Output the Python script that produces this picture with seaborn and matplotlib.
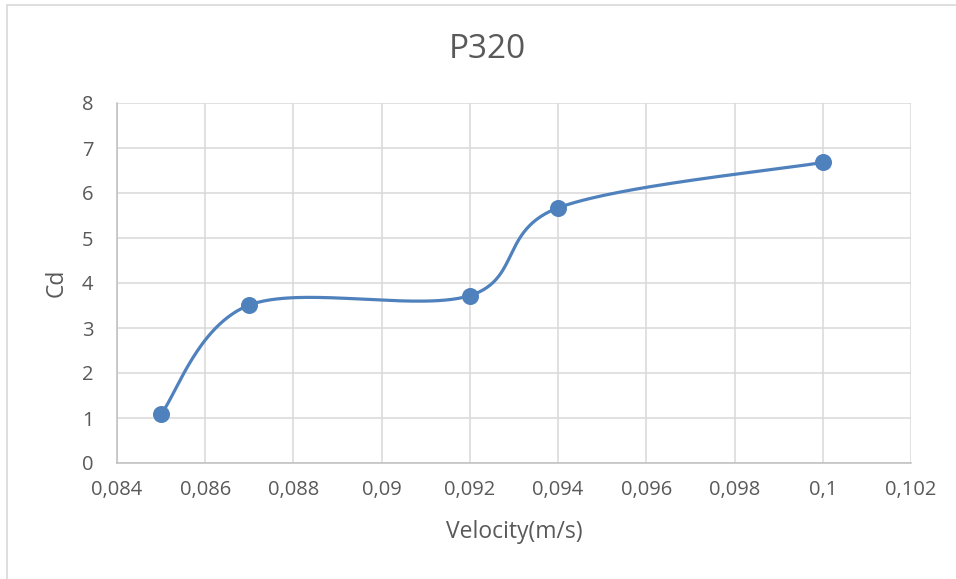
import numpy as np
import matplotlib
matplotlib.use("Agg")
import matplotlib.pyplot as plt
from matplotlib.lines import Line2D
import seaborn as sns

# Measured drag coefficient against flow velocity
velocity = [0.085, 0.087, 0.092, 0.094, 0.100]
cd = [1.09, 3.51, 3.72, 5.67, 6.68]

x_ticks = [0.084, 0.086, 0.088, 0.090, 0.092, 0.094, 0.096, 0.098, 0.100, 0.102]
x_tick_labels = ["0,084", "0,086", "0,088", "0,09", "0,092", "0,094",
                 "0,096", "0,098", "0,1", "0,102"]
y_ticks = [0, 1, 2, 3, 4, 5, 6, 7, 8]
y_tick_labels = ["0", "1", "2", "3", "4", "5", "6", "7", "8"]

title = "P320"
x_label = "Velocity(m/s)"
y_label = "Cd"


def smooth_curve(xs, ys, n=60):
    """Cubic Bezier segments with Catmull-Rom control points (smoothed line)."""
    px = np.asarray(xs, float)
    py = np.asarray(ys, float)
    m = len(px)
    out_x, out_y = [], []
    t = np.linspace(0, 1, n)
    for i in range(m - 1):
        i0 = max(i - 1, 0)
        i3 = min(i + 2, m - 1)
        p0 = np.array([px[i], py[i]])
        p3 = np.array([px[i + 1], py[i + 1]])
        c1 = p0 + (np.array([px[i + 1], py[i + 1]]) - np.array([px[i0], py[i0]])) / 6
        c2 = p3 - (np.array([px[i3], py[i3]]) - np.array([px[i], py[i]])) / 6
        b = ((1 - t) ** 3)[:, None] * p0 + (3 * (1 - t) ** 2 * t)[:, None] * c1 \
            + (3 * (1 - t) * t ** 2)[:, None] * c2 + (t ** 3)[:, None] * p3
        out_x.extend(b[:, 0])
        out_y.extend(b[:, 1])
    return np.array(out_x), np.array(out_y)


sns.set_theme(style="white")
plt.rcParams["font.family"] = ["Open Sans", "DejaVu Sans"]

text_color = "#595959"
grid_color = "#D9D9D9"
line_color = "#4F81BD"

fig = plt.figure(figsize=(9.56, 5.79), dpi=100)
ax = fig.add_axes([117 / 956, 1 - 463 / 579, (911 - 117) / 956, (463 - 103) / 579])

sx, sy = smooth_curve(velocity, cd)
sns.lineplot(x=sx, y=sy, ax=ax, color=line_color, linewidth=2.3, sort=False,
             estimator=None)
sns.scatterplot(x=velocity, y=cd, ax=ax, color=line_color, s=150,
                edgecolor=line_color, linewidth=0, zorder=5)

ax.set_xlim(0.084, 0.102)
ax.set_ylim(0, 8)
ax.set_xticks(x_ticks)
ax.set_xticklabels(x_tick_labels)
ax.set_yticks(y_ticks)
ax.set_yticklabels(y_tick_labels)
ax.tick_params(axis="both", length=0, labelsize=14.5, labelcolor=text_color)
ax.tick_params(axis="x", pad=12)
ax.tick_params(axis="y", pad=17)

ax.grid(True, color=grid_color, linewidth=1.1)
ax.set_axisbelow(True)
for side in ["top", "right"]:
    ax.spines[side].set_visible(False)
for side in ["left", "bottom"]:
    ax.spines[side].set_color("#BFBFBF")
    ax.spines[side].set_linewidth(1.1)

ax.set_xlabel(x_label, fontsize=16.5, color=text_color)
ax.set_ylabel(y_label, fontsize=16.5, color=text_color)
ax.xaxis.set_label_coords(0.5, (463 - 532) / 360)
ax.yaxis.set_label_coords((57 - 117) / 794, 0.5)
ax.xaxis.label.set_va("center")
ax.yaxis.label.set_va("center")
fig.text(487 / 956, 1 - 49 / 579, title, fontsize=24,
         color=text_color, ha="center", va="center")

# Chart frame edges
fig.add_artist(Line2D([7 / 956, 1], [1 - 5 / 579, 1 - 5 / 579],
                      transform=fig.transFigure, color="#D9D9D9", linewidth=1.2))
fig.add_artist(Line2D([7 / 956, 7 / 956], [0, 1 - 5 / 579],
                      transform=fig.transFigure, color="#D9D9D9", linewidth=1.2))

fig.savefig("out.png", dpi=100, facecolor="white")
